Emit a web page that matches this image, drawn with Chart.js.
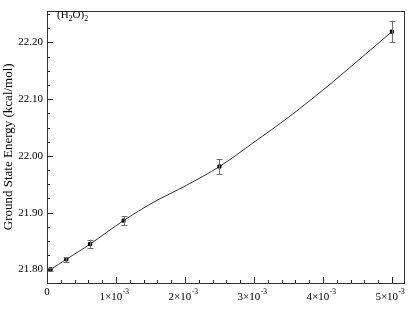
<!DOCTYPE html>
<html>
<head>
<meta charset="utf-8">
<script src="https://cdn.jsdelivr.net/npm/chart.js@4"></script>
<style>
  html, body { margin: 0; padding: 0; background: #fff; }
  #wrap { width: 411px; height: 318px; }
</style>
</head>
<body>
<div id="wrap"><canvas id="myChart" width="411" height="318"></canvas></div>
<script>
// datos
var xPoints = [0.00005, 0.00028, 0.000625, 0.00111, 0.0025, 0.005];
var yPoints = [21.800, 21.8177, 21.8446, 21.886, 21.9813, 22.219];
var yErrors = [0.002, 0.004, 0.0077, 0.0075, 0.0134, 0.019];

// curva ajustada
var fitX = [0, 0.00005, 0.00028, 0.000625, 0.00111, 0.00154, 0.00202, 0.0025, 0.003, 0.0035, 0.004, 0.0045, 0.005];
var fitY = [21.798, 21.800, 21.8177, 21.8446, 21.886, 21.918, 21.948, 21.981, 22.024, 22.068, 22.116, 22.167, 22.219];

// marcas de los ejes (^ separa el exponente)
var xTickValues = [0, 0.001, 0.002, 0.003, 0.004, 0.005];
var xTickLabels = ['0', '1×10^-3', '2×10^-3', '3×10^-3', '4×10^-3', '5×10^-3'];
var yTickValues = [21.8, 21.9, 22.0, 22.1, 22.2];
var yTickLabels = ['21.80', '21.90', '22.00', '22.10', '22.20'];

var SERIF = '"Liberation Serif", "Times New Roman", serif';

// barras de error, marcas hacia dentro, caja y etiqueta (H2O)2
var framePlugin = {
    id: 'frame',
    afterDatasetsDraw: function(chart){
        var c = chart.ctx;
        var xs = chart.scales.x, ys = chart.scales.y;
        c.save();
        c.strokeStyle = '#707070';
        c.lineWidth = 1;
        for(var i=0;i<xPoints.length;i++){
            var px = Math.round(xs.getPixelForValue(xPoints[i])) + 0.5;
            var top = ys.getPixelForValue(yPoints[i] + yErrors[i]);
            var bot = ys.getPixelForValue(yPoints[i] - yErrors[i]);
            c.beginPath();
            c.moveTo(px, top); c.lineTo(px, bot);
            c.moveTo(px-3, Math.round(top)+0.5); c.lineTo(px+3, Math.round(top)+0.5);
            c.moveTo(px-3, Math.round(bot)+0.5); c.lineTo(px+3, Math.round(bot)+0.5);
            c.stroke();
        }
        c.restore();
    },
    afterDraw: function(chart){
        var c = chart.ctx, a = chart.chartArea;
        var xs = chart.scales.x, ys = chart.scales.y;
        c.save();
        c.strokeStyle = '#222';
        c.lineWidth = 1;
        c.beginPath();
        // ticks eje y
        for(var v = 21.775; v <= 22.2501; v += 0.025){
            var py = Math.round(ys.getPixelForValue(v)) + 0.5;
            if(py < a.top || py > a.bottom) continue;
            var major = Math.abs(v*10 - Math.round(v*10)) < 1e-6;
            c.moveTo(a.left, py); c.lineTo(a.left + (major ? 6 : 3), py);
        }
        // ticks eje x
        for(var k = 0; k <= 26; k++){
            var xv = k*0.0002;
            var px = Math.round(xs.getPixelForValue(xv)) + 0.5;
            if(px < a.left || px > a.right) continue;
            var majorX = (k % 5) == 0;
            c.moveTo(px, a.bottom); c.lineTo(px, a.bottom - (majorX ? 6 : 3));
        }
        c.stroke();
        // caja
        c.strokeStyle = '#333';
        c.strokeRect(Math.round(a.left)+0.5, Math.round(a.top)+0.5, Math.round(a.right-a.left)-1, Math.round(a.bottom-a.top));

        c.fillStyle = '#000';
        c.textBaseline = 'alphabetic';
        var big = '11px ' + SERIF, small = '7.5px ' + SERIF;
        // etiquetas eje x con exponente
        for(var j=0;j<xTickValues.length;j++){
            var parts = xTickLabels[j].split('^');
            var tx = xs.getPixelForValue(xTickValues[j]);
            c.font = big;
            var w0 = c.measureText(parts[0]).width;
            var w1 = 0;
            if(parts.length > 1){ c.font = small; w1 = c.measureText(parts[1]).width; }
            var sx = tx - (w0 + w1)/2 - (parts.length > 1 ? 2 : 0);
            var base = parts.length > 1 ? 299.5 : 294.5;
            c.font = big; c.fillText(parts[0], sx, base);
            if(parts.length > 1){ c.font = small; c.fillText(parts[1], sx + w0 + 0.5, base - 6); }
        }
        // etiqueta (H2O)2
        var x0 = a.left + 10, y0 = 18;
        var small2 = '8px ' + SERIF;
        c.font = big; c.fillText('(H', x0, y0); x0 += c.measureText('(H').width;
        c.font = small2; c.fillText('2', x0, y0 + 3); x0 += c.measureText('2').width;
        c.font = big; c.fillText('O)', x0, y0); x0 += c.measureText('O)').width;
        c.font = small2; c.fillText('2', x0, y0 + 3);
        c.restore();
    }
};

var ctx = document.getElementById("myChart").getContext("2d");
var myChart = new Chart(ctx, {
    type: 'scatter',
    data: {
        datasets: [{
            label: 'ajuste',
            type: 'line',
            data: fitX.map(function(x, i){ return {x: x, y: fitY[i]}; }),
            borderColor: '#333',
            borderWidth: 1,
            pointRadius: 0,
            fill: false,
            tension: 0.3,
            order: 2
        },{
            label: 'datos',
            data: xPoints.map(function(x, i){ return {x: x, y: yPoints[i]}; }),
            backgroundColor: '#000',
            borderColor: '#000',
            pointRadius: 2.2,
            pointStyle: 'rect',
            order: 1
        }]
    },
    options: {
        responsive: false,
        animation: false,
        layout: { padding: { top: 3, right: 6, left: 0, bottom: 0 } },
        plugins: { legend: { display: false }, tooltip: { enabled: false } },
        scales: {
            x: {
                type: 'linear',
                min: 0,
                max: 0.00519,
                grid: { display: false, drawTicks: false },
                border: { display: false },
                afterBuildTicks: function(s){ s.ticks = xTickValues.map(function(v){ return {value: v}; }); },
                afterFit: function(s){ s.height = 35; },
                ticks: { display: false }
            },
            y: {
                type: 'linear',
                min: 21.776,
                max: 22.256,
                grid: { display: false, drawTicks: false },
                border: { display: false },
                afterBuildTicks: function(s){ s.ticks = yTickValues.map(function(v){ return {value: v}; }); },
                afterFit: function(s){ s.width = 47; },
                title: {
                    display: true,
                    text: 'Ground State Energy (kcal/mol)',
                    color: '#000',
                    font: { family: SERIF, size: 13 },
                    padding: { top: 1, bottom: 0 }
                },
                ticks: {
                    padding: 4,
                    color: '#000',
                    font: { family: SERIF, size: 11 },
                    callback: function(value, index){ return yTickLabels[index]; }
                }
            }
        }
    },
    plugins: [framePlugin]
});
</script>
</body>
</html>
